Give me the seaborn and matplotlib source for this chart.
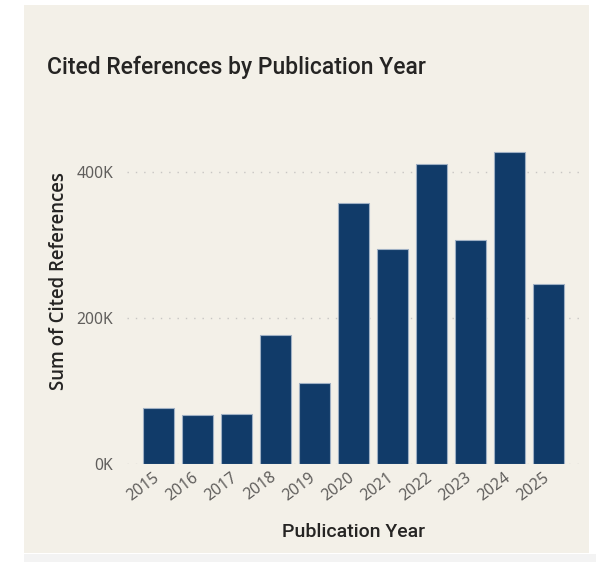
import matplotlib
matplotlib.use("Agg")
import matplotlib.pyplot as plt
import matplotlib.transforms as mtransforms
import seaborn as sns
import pandas as pd
from matplotlib.patches import Rectangle
from matplotlib.ticker import FuncFormatter

years = ["2015", "2016", "2017", "2018", "2019", "2020", "2021", "2022", "2023", "2024", "2025"]
cited = [77000, 66500, 68000, 176500, 111000, 358000, 295000, 411000, 307500, 428000, 246000]
yticks = [0, 200000, 400000]

bg = "#F3F0E8"
bar_color = "#113B69"

df = pd.DataFrame({"Publication Year": years, "Sum of Cited References": cited})

sns.set_style("white")
W, H = 600, 562
fig = plt.figure(figsize=(W / 100, H / 100), dpi=100, facecolor="white")

# report panel + bottom strip
fig.patches.append(Rectangle((24 / W, 1 - 553 / H), (589 - 24) / W, (553 - 5) / H,
                             transform=fig.transFigure, facecolor=bg, edgecolor="none", zorder=-5))
fig.patches.append(Rectangle((24 / W, 0), (596 - 24) / W, (562 - 554) / H,
                             transform=fig.transFigure, facecolor="#F3F3F3", edgecolor="none", zorder=-5))

left, right = 127, 580
base, top = 463.7, 140
ax = fig.add_axes([left / W, 1 - base / H, (right - left) / W, (base - top) / H])
ax.set_facecolor("none")
ax.set_zorder(2)

sns.barplot(data=df, x="Publication Year", y="Sum of Cited References", color=bar_color,
            width=0.8, edgecolor="#9fb0c4", linewidth=0.8, saturation=1, ax=ax, zorder=3)

px_per_k = 0.7285
ax.set_ylim(0, (base - top) / px_per_k * 1000)
ax.set_xlim((left - 158.7) / 39, (right - 158.7) / 39)

ax.set_yticks(yticks)
ax.yaxis.set_major_formatter(FuncFormatter(lambda v, p: f"{int(v / 1000)}K"))
ax.grid(axis="y", color="#C8C6C4", linestyle=(0, (1, 5)), linewidth=1.0, zorder=0)
ax.grid(axis="x", visible=False)
for s in ax.spines.values():
    s.set_visible(False)

ax.tick_params(axis="y", length=0, pad=10, labelsize=11.3, labelcolor="#605E5C")
ax.tick_params(axis="x", length=0, pad=4, labelsize=11.3, labelcolor="#605E5C")
for lab in ax.get_yticklabels():
    lab.set_fontfamily("Noto Sans")
shift = mtransforms.ScaledTranslation(-6 / 100, 0, fig.dpi_scale_trans)
for lab in ax.get_xticklabels():
    lab.set_fontfamily("Noto Sans")
    lab.set_rotation(37)
    lab.set_ha("right")
    lab.set_rotation_mode("anchor")
    lab.set_transform(lab.get_transform() + shift)

ax.set_xlabel("")
ax.set_ylabel("")

fig.text(47 / W, 1 - 67 / H, "Cited References by Publication Year", fontsize=16.5,
         fontfamily="Roboto", fontweight="medium", color="#252423", va="center", ha="left")
fig.text(59 / W, 1 - 281 / H, "Sum of Cited References", fontsize=13.4, rotation=90,
         fontfamily="Open Sans", fontweight="semibold", color="#252423", va="center", ha="center")
fig.text(354 / W, 1 - 532 / H, "Publication Year", fontsize=14,
         fontfamily="Roboto", fontweight="medium", color="#252423", va="center", ha="center")

fig.savefig("out.png", dpi=100, facecolor="white")
